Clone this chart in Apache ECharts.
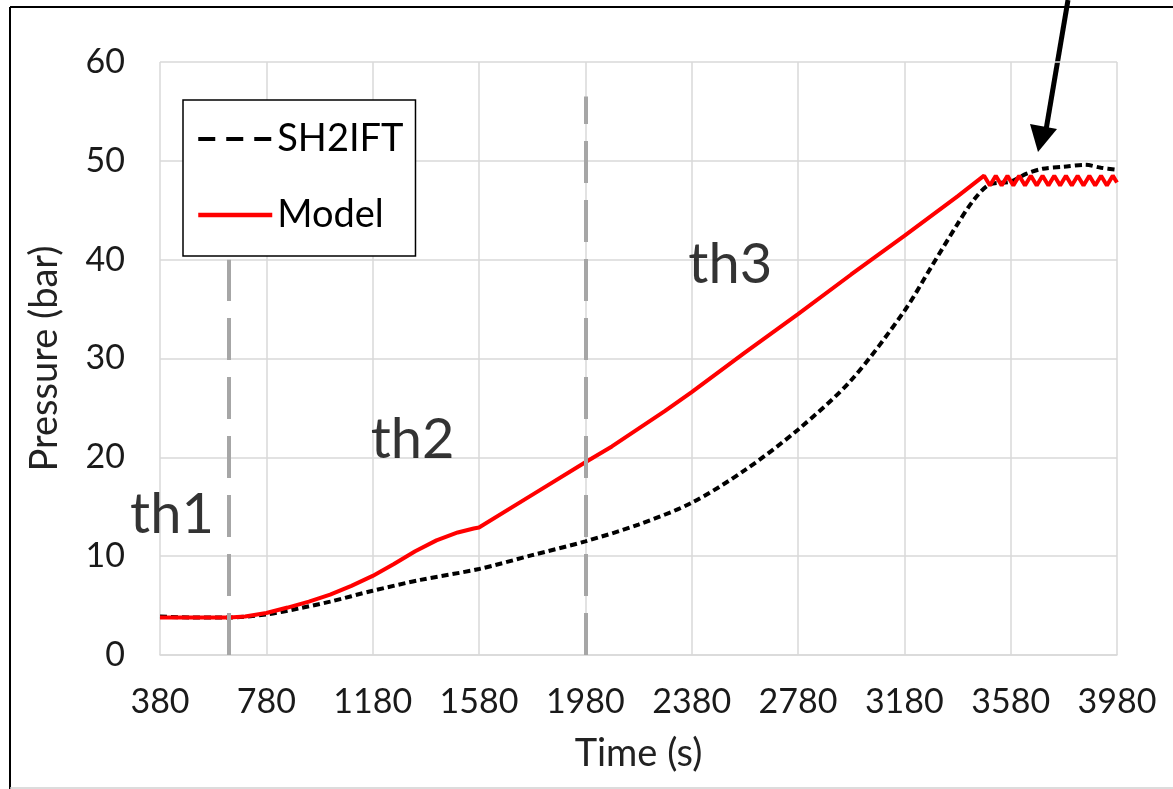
<!DOCTYPE html>
<html>
<head>
<meta charset="utf-8">
<script src="https://cdn.jsdelivr.net/npm/echarts@6/dist/echarts.min.js"></script>
<style>
html,body{margin:0;padding:0;background:#fff;}
#chart{width:1173px;height:789px;}
</style>
</head>
<body>
<div id="chart"></div>
<script>
// ---- data ----
var TIME_START = 380;
var xTickLabels = ['380','780','1180','1580','1980','2380','2780','3180','3580','3980'];
var yTickLabels = ['0','10','20','30','40','50','60'];

var modelTime = [380, 500, 640, 700, 780, 860, 940, 1020, 1100, 1180, 1260, 1340, 1420, 1500, 1560, 1580, 1780, 1980, 2080, 2180, 2280, 2380, 2580, 2780, 2980, 3180, 3380, 3480,
  3502, 3524, 3546, 3568, 3590, 3612, 3634, 3656, 3678, 3700, 3722, 3744, 3766, 3788, 3810, 3832, 3854, 3876, 3898, 3920, 3942, 3964, 3980];
var modelPressure = [3.8, 3.8, 3.8, 3.9, 4.25, 4.8, 5.4, 6.1, 7.0, 8.0, 9.2, 10.5, 11.6, 12.4, 12.8, 12.9, 16.2, 19.5, 21.1, 22.9, 24.7, 26.6, 30.6, 34.5, 38.5, 42.4, 46.4, 48.5,
  47.5, 48.5, 47.5, 48.5, 47.5, 48.5, 47.5, 48.5, 47.5, 48.5, 47.5, 48.5, 47.5, 48.5, 47.5, 48.5, 47.5, 48.5, 47.5, 48.5, 47.5, 48.5, 47.8];

var sh2iftTime = [380, 500, 640, 780, 900, 1020, 1180, 1360, 1580, 1780, 1980, 2180, 2380, 2580, 2780, 2980, 3180, 3280, 3380, 3440, 3500, 3580, 3640, 3700, 3780, 3860, 3920, 3980];
var sh2iftPressure = [3.9, 3.8, 3.8, 4.1, 4.7, 5.4, 6.5, 7.6, 8.7, 10.1, 11.5, 13.2, 15.4, 18.7, 22.8, 27.8, 34.8, 39.2, 43.6, 46.0, 47.6, 47.9, 48.7, 49.2, 49.4, 49.6, 49.3, 49.1];

var thresholdTime = [640, 1980];
var thresholdTop = [40, 56.5];

var annotationText = ['th1', 'th2', 'th3'];
var annotationTime = [425, 1330, 2525];
var annotationPressure = [14.2, 21.8, 39.5];

// ---- build ----
function pairs(t, v){ return t.map(function(x,i){ return [x - TIME_START, v[i]]; }); }

var FONT = 'Lato, "Open Sans", sans-serif';
var chart = echarts.init(document.getElementById('chart'), null, {renderer:'canvas'});

var option = {
  animation: false,
  backgroundColor: '#ffffff',
  grid: {left:160, right:56, top:62, bottom:134, containLabel:false},
  legend: {
    show: true,
    orient: 'vertical',
    left: 183, top: 100,
    padding: [20, 12, 22, 13],
    itemGap: 38,
    itemWidth: 74, itemHeight: 14,
    backgroundColor: '#ffffff',
    borderColor: '#000000', borderWidth: 1.5,
    itemStyle: {opacity: 0},
    textStyle: {fontFamily: FONT, fontSize: 38, color:'#000'},
    data: [
      {name:'SH2IFT', lineStyle:{type:[17,11], width:4, color:'#000'}},
      {name:'Model', lineStyle:{width:4.5, color:'#ff0000'}}
    ]
  },
  xAxis: {
    type: 'value', min: 0, max: 3600, interval: 400,
    name: 'Time (s)', nameLocation: 'middle', nameGap: 80,
    nameTextStyle: {fontFamily: FONT, fontSize: 38, color:'#222'},
    axisLine: {show:true, lineStyle:{color:'#d9d9d9', width:1.5}},
    axisTick: {show:false},
    axisLabel: {margin: 30, fontFamily: FONT, fontSize: 34, color:'#1a1a1a',
      formatter: function(v){ var i = Math.round(v/400); return xTickLabels[i] || ''; }},
    splitLine: {show:true, lineStyle:{color:'#d9d9d9', width:1.5}}
  },
  yAxis: {
    type: 'value', min: 0, max: 60, interval: 10,
    name: 'Pressure (bar)', nameLocation: 'middle', nameGap: 96,
    nameTextStyle: {fontFamily: FONT, fontSize: 38, color:'#222'},
    axisLine: {show:false}, axisTick: {show:false},
    axisLabel: {margin: 35, fontFamily: FONT, fontSize: 34, color:'#1a1a1a',
      formatter: function(v){ var i = Math.round(v/10); return yTickLabels[i] || ''; }},
    splitLine: {show:true, lineStyle:{color:'#d9d9d9', width:1.5}}
  },
  series: [
    {
      name: 'SH2IFT', type: 'line', data: pairs(sh2iftTime, sh2iftPressure),
      showSymbol: false, symbol: 'none', smooth: 0.3, z: 3,
      lineStyle: {color:'#000000', width:4, type:[7,4]},
      itemStyle: {color:'#000000'}
    },
    {
      name: 'Model', type: 'line', data: pairs(modelTime, modelPressure),
      showSymbol: false, symbol: 'none', z: 4,
      lineStyle: {color:'#ff0000', width:4},
      itemStyle: {color:'#ff0000'}
    },
    {
      name: 'thresholds', type: 'line', data: [], z: 2, symbol: 'none',
      markLine: {
        silent: true, symbol: ['none','none'], label: {show:false},
        lineStyle: {color:'#a6a6a6', width:4, type:[42,17]},
        data: thresholdTime.map(function(t,i){
          return [{coord:[t - TIME_START, 0]}, {coord:[t - TIME_START, thresholdTop[i]]}];
        })
      }
    },
    {
      name: 'annotations', type: 'scatter', symbolSize: 0, z: 5, silent: true,
      data: annotationText.map(function(s,i){ return {name:s, value:[annotationTime[i]-TIME_START, annotationPressure[i]]}; }),
      label: {show:true, position:'inside', formatter: '{b}', fontFamily: FONT, fontSize: 56, color:'#000'}
    }
  ],
  graphic: [
    {type:'line', shape:{x1:10, y1:7, x2:1173, y2:7}, style:{stroke:'#000', lineWidth:2}},
    {type:'line', shape:{x1:10, y1:7, x2:10, y2:789}, style:{stroke:'#000', lineWidth:2}},
    {type:'line', shape:{x1:10, y1:788, x2:1173, y2:788}, style:{stroke:'#d0d0d0', lineWidth:1.5}},
    {type:'line', shape:{x1:1068, y1:0, x2:1046, y2:130}, style:{stroke:'#000', lineWidth:5}},
    {type:'polygon', shape:{points:[[1038,152],[1030,124],[1057,129]]}, style:{fill:'#000'}}
  ]
};
chart.setOption(option);
</script>
</body>
</html>
